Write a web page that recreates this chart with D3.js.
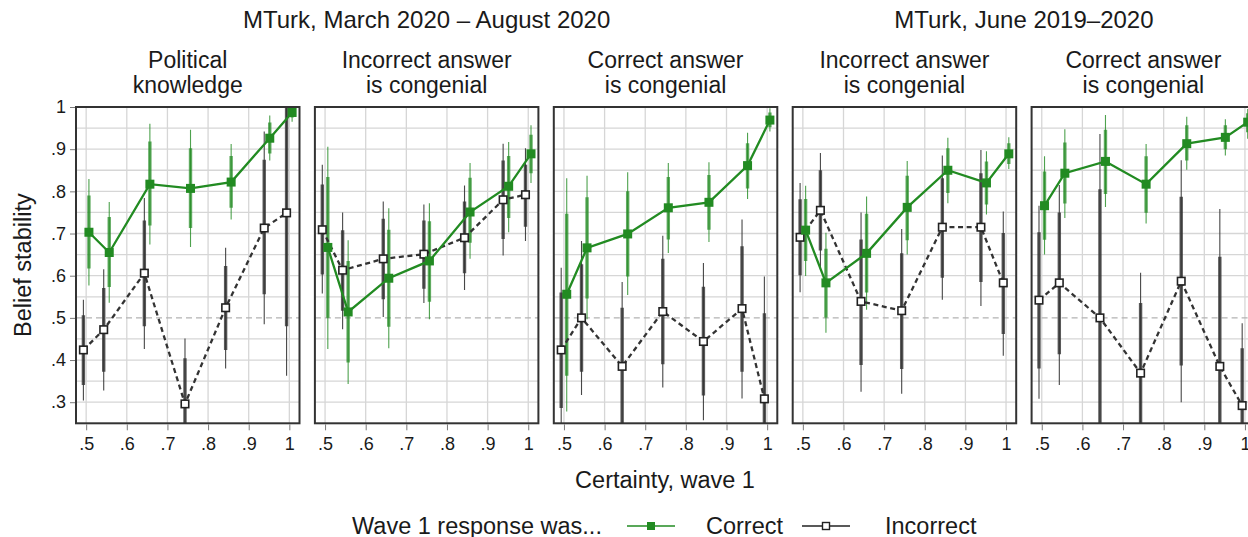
<!DOCTYPE html>
<meta charset="UTF-8">
<title>Belief stability by certainty</title>
<style>
  body { margin: 0; background: #fff; }
  text { font-family: "Liberation Sans", Arial, sans-serif; fill: #1a1a1a; }
</style>
<svg width="1248" height="537"></svg>
<script src="https://d3js.org/d3.v7.min.js"></script>
<script>
// ---- data ----
var groupTitles = ["MTurk, March 2020 \u2013 August 2020", "MTurk, June 2019\u20132020"];
var panelTitles = [["Political", "knowledge"], ["Incorrect answer", "is congenial"], ["Correct answer", "is congenial"],
                   ["Incorrect answer", "is congenial"], ["Correct answer", "is congenial"]];
var certainty = [0.5, 0.55, 0.65, 0.75, 0.85, 0.945, 1];
var xTicks = [0.5, 0.6, 0.7, 0.8, 0.9, 1];
var yTicks = [0.3, 0.4, 0.5, 0.6, 0.7, 0.8, 0.9, 1];

var correctEst = [
  [.703, .655, .817, .807, .822, .926, .987],
  [.667, .514, .594, .635, .751, .812, .889],
  [.556, .666, .699, .761, .774, .861, .969],
  [.708, .583, .653, .762, .850, .820, .889],
  [.766, .843, .871, .817, .913, .928, .964]];
var correctLo50 = [
  [.617, .573, .719, .713, .761, .890, .975],
  [.500, .394, .479, .538, .678, .737, .843],
  [.363, .546, .598, .686, .709, .807, .952],
  [.635, .501, .560, .684, .796, .769, .865],
  [.685, .771, .794, .749, .873, .900, .940]];
var correctHi50 = [
  [.790, .739, .918, .902, .884, .963, .998],
  [.834, .635, .709, .729, .832, .884, .934],
  [.747, .786, .800, .834, .839, .914, .987],
  [.782, .664, .747, .837, .902, .871, .914],
  [.847, .916, .946, .883, .957, .957, .985]];
var correctLo95 = [
  [.577, .536, .674, .668, .733, .873, .965],
  [.426, .343, .428, .497, .640, .703, .820],
  [.278, .497, .554, .654, .680, .782, .942],
  [.599, .465, .519, .650, .772, .745, .853],
  [.650, .737, .763, .724, .851, .885, .925]];
var correctHi95 = [
  [.829, .775, .960, .946, .912, .980, 1.00],
  [.906, .684, .760, .772, .867, .917, .957],
  [.831, .837, .845, .867, .869, .939, .997],
  [.813, .702, .788, .872, .927, .895, .928],
  [.883, .947, .981, .912, .977, .971, .995]];

var incorrectEst = [
  [.424, .472, .606, .296, .524, .713, .749],
  [.709, .613, .640, .651, .690, .780, .792],
  [.424, .500, .385, .515, .444, .522, .308],
  [.691, .755, .539, .517, .715, .715, .583],
  [.542, .583, .500, .369, .587, .385, .292]];
var incorrectLo50 = [
  [.341, .372, .480, .200, .424, .556, .480],
  [.603, .517, .544, .569, .606, .687, .716],
  [.286, .372, .220, .390, .316, .372, .100],
  [.601, .660, .388, .379, .595, .585, .462],
  [.380, .414, .200, .200, .387, .150, .150]];
var incorrectHi50 = [
  [.506, .571, .731, .404, .623, .875, 1.00],
  [.816, .708, .735, .731, .776, .873, .863],
  [.560, .627, .524, .640, .574, .670, .511],
  [.781, .850, .686, .653, .831, .843, .701],
  [.703, .750, .805, .535, .787, .645, .428]];
var incorrectLo95 = [
  [.304, .328, .426, .150, .380, .485, .363],
  [.558, .473, .502, .535, .566, .648, .682],
  [.200, .317, .170, .335, .257, .309, .050],
  [.561, .615, .325, .320, .543, .528, .410],
  [.308, .341, .100, .150, .300, .100, .100]];
var incorrectHi95 = [
  [.543, .615, .784, .451, .666, .942, 1.02],
  [.863, .750, .776, .769, .814, .913, .902],
  [.619, .682, .585, .695, .630, .733, .598],
  [.820, .891, .750, .711, .885, .898, .752],
  [.766, .815, .936, .607, .874, .758, .487]];

// ---- layout ----
var svg = d3.select("svg");
var green = "#228b22", dark = "#333333";
var panelLeft = 76, panelStep = 238.9, panelW = 223.5;
var plotTop = 107, plotBottom = 423.3;
var dodge = 0.0068;

var x = d3.scaleLinear().domain([0.475, 1.025]).range([0, panelW]);
var y = d3.scaleLinear().domain([0.25, 1.0]).range([plotBottom, plotTop]);
var gridY = d3.range(0.3, 1.0001, 0.05).filter(function(v) { return Math.abs(v - 0.5) > 1e-6; });
var fmt = function(d) { return d === 1 ? "1" : d3.format(".1f")(d).replace(/^0/, ""); };

var line = d3.line()
    .x(function(d) { return x(d.x); })
    .y(function(d) { return y(d.y); });

// group titles
svg.append("text").attr("x", panelLeft + (2 * panelStep + panelW) / 2).attr("y", 28)
    .attr("text-anchor", "middle").attr("font-size", 24).text(groupTitles[0]);
svg.append("text").attr("x", panelLeft + 3 * panelStep + (panelStep + panelW) / 2).attr("y", 28)
    .attr("text-anchor", "middle").attr("font-size", 24).text(groupTitles[1]);

panelTitles.forEach(function(title, p) {
  var g = svg.append("g").attr("transform", "translate(" + (panelLeft + p * panelStep) + ",0)");

  g.selectAll(".ptitle").data(title).enter().append("text")
      .attr("x", panelW / 2).attr("y", function(d, i) { return 68 + i * 25; })
      .attr("text-anchor", "middle").attr("font-size", 23).text(function(d) { return d; });

  g.append("clipPath").attr("id", "clip" + p)
    .append("rect").attr("x", 0).attr("y", plotTop).attr("width", panelW).attr("height", plotBottom - plotTop);

  var inner = g.append("g").attr("clip-path", "url(#clip" + p + ")");

  // grid
  inner.selectAll(".gy").data(gridY).enter().append("line")
      .attr("x1", 0).attr("x2", panelW)
      .attr("y1", function(d) { return y(d); }).attr("y2", function(d) { return y(d); })
      .attr("stroke", "#d6d6d6").attr("stroke-width", 1.3);
  inner.selectAll(".gx").data(xTicks).enter().append("line")
      .attr("x1", function(d) { return x(d); }).attr("x2", function(d) { return x(d); })
      .attr("y1", plotTop).attr("y2", plotBottom)
      .attr("stroke", "#d6d6d6").attr("stroke-width", 1.3);
  inner.append("line")
      .attr("x1", 0).attr("x2", panelW).attr("y1", y(0.5)).attr("y2", y(0.5))
      .attr("stroke", "#b3b3b3").attr("stroke-width", 1.3).attr("stroke-dasharray", "6,4");

  var series = [
    {off: -dodge, color: dark, op: 0.9, est: incorrectEst[p], lo50: incorrectLo50[p], hi50: incorrectHi50[p],
     lo95: incorrectLo95[p], hi95: incorrectHi95[p], dash: "5,3.6", fill: "#fff"},
    {off: dodge, color: green, op: 0.8, est: correctEst[p], lo50: correctLo50[p], hi50: correctHi50[p],
     lo95: correctLo95[p], hi95: correctHi95[p], dash: null, fill: green}
  ];

  // error bars
  series.forEach(function(s) {
    var pts = certainty.map(function(c, i) {
      return {x: c + s.off, y: s.est[i], lo50: s.lo50[i], hi50: s.hi50[i], lo95: s.lo95[i], hi95: s.hi95[i]};
    });
    s.pts = pts;
    inner.selectAll(null).data(pts).enter().append("line")
        .attr("x1", function(d) { return x(d.x); }).attr("x2", function(d) { return x(d.x); })
        .attr("y1", function(d) { return y(d.lo95); }).attr("y2", function(d) { return y(d.hi95); })
        .attr("stroke", s.color).attr("stroke-opacity", s.op).attr("stroke-width", 1.1);
    inner.selectAll(null).data(pts).enter().append("line")
        .attr("x1", function(d) { return x(d.x); }).attr("x2", function(d) { return x(d.x); })
        .attr("y1", function(d) { return y(d.lo50); }).attr("y2", function(d) { return y(d.hi50); })
        .attr("stroke", s.color).attr("stroke-opacity", s.op * 0.9).attr("stroke-width", 3.4);
  });

  // lines and points
  series.forEach(function(s) {
    inner.append("path").datum(s.pts)
        .attr("fill", "none").attr("stroke", s.color).attr("stroke-width", 2.3)
        .attr("stroke-dasharray", s.dash).attr("d", line);
  });
  series.forEach(function(s) {
    var sz = s.fill === "#fff" ? 7.5 : 9;
    inner.selectAll(null).data(s.pts).enter().append("rect")
        .attr("x", function(d) { return x(d.x) - sz / 2; }).attr("y", function(d) { return y(d.y) - sz / 2; })
        .attr("width", sz).attr("height", sz)
        .attr("fill", s.fill).attr("stroke", s.fill === "#fff" ? "#222" : "none").attr("stroke-width", 1.6);
  });

  // frame
  g.append("rect").attr("x", 0).attr("y", plotTop).attr("width", panelW).attr("height", plotBottom - plotTop)
      .attr("fill", "none").attr("stroke", dark).attr("stroke-width", 2);

  // x axis
  var xa = g.append("g").attr("transform", "translate(0," + (plotBottom + 1) + ")")
      .call(d3.axisBottom(x).tickValues(xTicks).tickSize(6).tickPadding(7).tickFormat(fmt));
  xa.select(".domain").remove();
  xa.selectAll("line").attr("stroke", "#7a7a7a");
  xa.selectAll("text").attr("font-size", 18).attr("fill", "#1a1a1a")
      .attr("font-family", "Liberation Sans, Arial, sans-serif");

  if (p === 0) {
    var ya = g.append("g").attr("transform", "translate(-1,0)")
        .call(d3.axisLeft(y).tickValues(yTicks).tickSize(5).tickPadding(4).tickFormat(fmt));
    ya.select(".domain").remove();
    ya.selectAll("line").attr("stroke", "#7a7a7a");
    ya.selectAll("text").attr("font-size", 18).attr("fill", "#1a1a1a")
        .attr("font-family", "Liberation Sans, Arial, sans-serif");
  }
});

// axis titles
svg.append("text").attr("transform", "translate(31," + ((plotTop + plotBottom) / 2) + ") rotate(-90)")
    .attr("text-anchor", "middle").attr("font-size", 23.5).text("Belief stability");
svg.append("text").attr("x", 665).attr("y", 488)
    .attr("text-anchor", "middle").attr("font-size", 23.5).text("Certainty, wave 1");

// legend
var leg = svg.append("g");
leg.append("text").attr("x", 352).attr("y", 534).attr("font-size", 23.5).text("Wave 1 response was...");
leg.append("line").attr("x1", 627).attr("x2", 675).attr("y1", 526).attr("y2", 526)
    .attr("stroke", green).attr("stroke-width", 1.6);
leg.append("rect").attr("x", 647).attr("y", 522).attr("width", 8).attr("height", 8).attr("fill", green);
leg.append("text").attr("x", 706).attr("y", 534).attr("font-size", 23.5).text("Correct");
leg.append("line").attr("x1", 802).attr("x2", 850).attr("y1", 526).attr("y2", 526)
    .attr("stroke", "#222").attr("stroke-width", 1.6);
leg.append("rect").attr("x", 822.5).attr("y", 522.5).attr("width", 7).attr("height", 7)
    .attr("fill", "#fff").attr("stroke", "#222").attr("stroke-width", 1.4);
leg.append("text").attr("x", 885).attr("y", 534).attr("font-size", 23.5).text("Incorrect");
</script>
